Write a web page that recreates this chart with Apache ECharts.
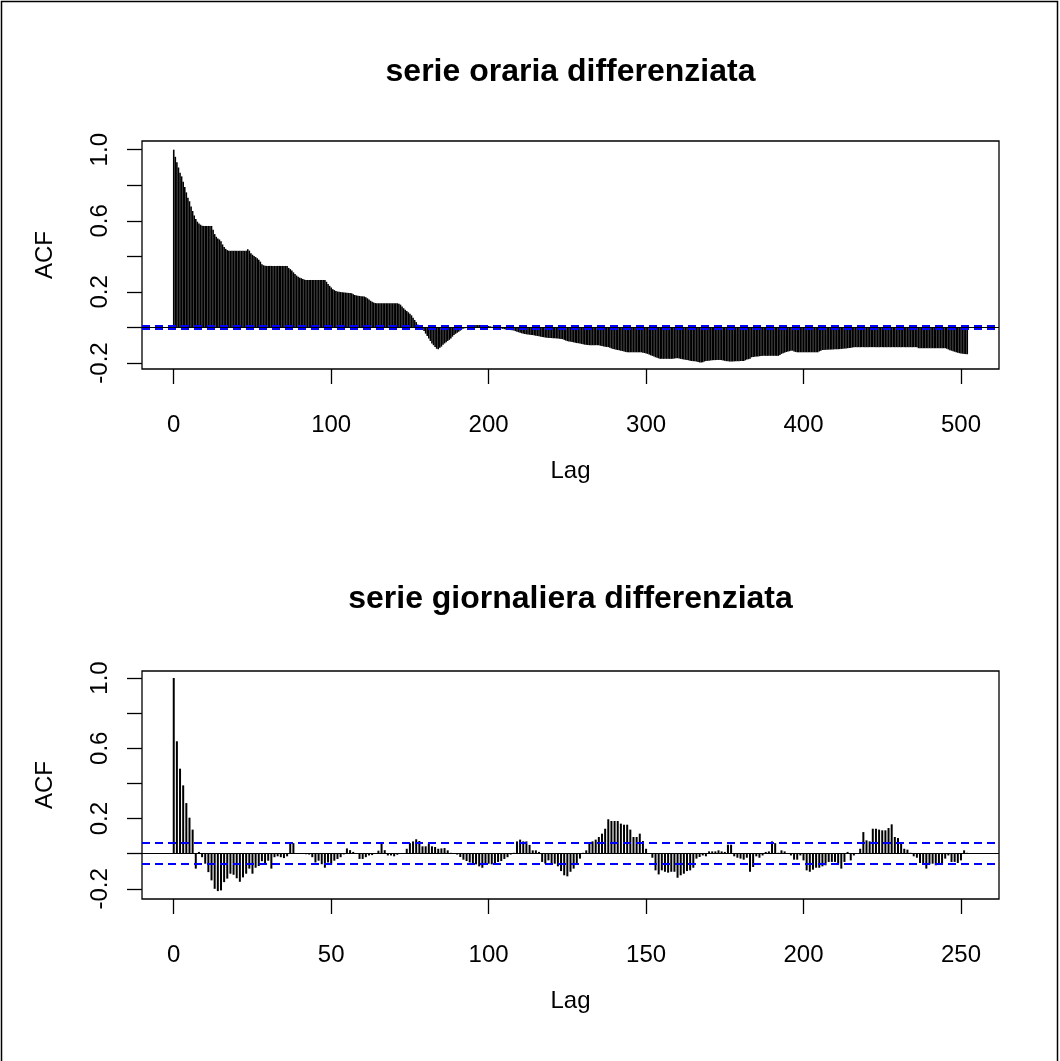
<!DOCTYPE html>
<html>
<head>
<meta charset="utf-8">
<script src="https://cdn.jsdelivr.net/npm/echarts@6/dist/echarts.min.js"></script>
<style>
html,body{margin:0;padding:0;background:#fff;}
#c{width:1060px;height:1061px;}
</style>
</head>
<body>
<div id="c"></div>
<script>
// ---- DATA ----
const titleTop = "serie oraria differenziata";
const titleBottom = "serie giornaliera differenziata";
const xTicksTop = [0, 100, 200, 300, 400, 500];
const xTicksBottom = [0, 50, 100, 150, 200, 250];
const yTicks = [-0.2, 0, 0.2, 0.4, 0.6, 0.8, 1.0];
const yTickLabels = [-0.2, 0.2, 0.6, 1.0];
const ciTop = 0.015;
const ciBottom = 0.061;

// ACF of hourly differenced series, lags 0..504
const acfTop = [
 1, .96, .93, .90, .87, .85, .82, .79, .76, .73,
 .71, .68, .655, .63, .61, .595, .585, .578, .572, .571,
 .571, .571, .571, .571, .571, .55, .525, .51, .50, .495,
 .485, .467, .452, .442, .435, .431, .431, .431, .431, .431,
 .431, .431, .431, .431, .431, .431, .431, .44, .432, .418,
 .409, .402, .396, .389, .381, .37, .356, .35, .347, .346,
 .346, .346, .346, .346, .346, .346, .346, .346, .346, .346,
 .346, .346, .346, .335, .328, .32, .31, .30, .292, .285,
 .28, .277, .272, .269, .267, .267, .267, .267, .267, .267,
 .267, .267, .267, .267, .267, .267, .267, .257, .245, .234,
 .225, .215, .21, .205, .202, .2, .199, .198, .197, .196,
 .195, .194, .193, .192, .187, .183, .18, .178, .177, .176,
 .175, .174, .17, .164, .157, .15, .145, .14, .137, .136,
 .136, .136, .136, .136, .136, .136, .136, .136, .136, .136,
 .136, .136, .136, .133, .128, .118, .108, .1, .092, .085,
 .077, .068, .055, .042, .03, .016, .008, .002, -.01, -.02,
 -.035, -.048, -.062, -.076, -.09, -.1, -.11, -.12, -.123, -.115,
 -.108, -.098, -.09, -.083, -.076, -.07, -.062, -.052, -.043, -.036,
 -.03, -.024, -.018, -.011, -.007, -.004, -.002, 0, .005, .01,
 .013, .013, .013, .013, .013, .013, .013, .013, .013, .013,
 .008, .006, .004, .003, .002, 0, -.002, -.004, -.006, -.008,
 -.01, -.012, -.013, -.014, -.015, -.016, -.018, -.021, -.024, -.027,
 -.03, -.033, -.035, -.037, -.039, -.04, -.041, -.042, -.043, -.045,
 -.047, -.048, -.05, -.052, -.054, -.055, -.057, -.058, -.059, -.06,
 -.06, -.061, -.061, -.062, -.063, -.064, -.065, -.066, -.07, -.074,
 -.077, -.079, -.08, -.082, -.084, -.086, -.088, -.089, -.091, -.093,
 -.095, -.097, -.098, -.099, -.1, -.1, -.1, -.1, -.1, -.1,
 -.1, -.103, -.105, -.107, -.109, -.11, -.111, -.115, -.118, -.121,
 -.123, -.125, -.127, -.129, -.131, -.133, -.136, -.138, -.14, -.14,
 -.14, -.14, -.14, -.14, -.14, -.14, -.14, -.14, -.142, -.144,
 -.147, -.149, -.153, -.157, -.16, -.164, -.168, -.171, -.174, -.177,
 -.177, -.177, -.177, -.177, -.177, -.177, -.177, -.176, -.175, -.174,
 -.173, -.175, -.177, -.179, -.181, -.182, -.183, -.185, -.187, -.189,
 -.19, -.191, -.192, -.195, -.197, -.198, -.196, -.192, -.189, -.188,
 -.187, -.186, -.185, -.184, -.184, -.183, -.183, -.183, -.184, -.186,
 -.188, -.19, -.191, -.192, -.192, -.192, -.191, -.19, -.19, -.19,
 -.189, -.189, -.189, -.185, -.181, -.179, -.176, -.168, -.166, -.165,
 -.164, -.163, -.162, -.161, -.16, -.16, -.16, -.16, -.16, -.16,
 -.16, -.16, -.16, -.16, -.16, -.155, -.149, -.145, -.142, -.139,
 -.136, -.134, -.131, -.131, -.135, -.138, -.14, -.14, -.14, -.14,
 -.14, -.14, -.14, -.14, -.14, -.14, -.14, -.14, -.14, -.14,
 -.135, -.131, -.127, -.127, -.126, -.126, -.125, -.125, -.124, -.124,
 -.123, -.123, -.123, -.122, -.121, -.12, -.119, -.118, -.117, -.116,
 -.115, -.113, -.112, -.111, -.111, -.111, -.111, -.111, -.111, -.111,
 -.111, -.111, -.111, -.111, -.111, -.111, -.111, -.111, -.111, -.111,
 -.111, -.111, -.111, -.111, -.111, -.111, -.111, -.111, -.111, -.111,
 -.111, -.111, -.111, -.111, -.111, -.111, -.111, -.111, -.111, -.111,
 -.111, -.111, -.111, -.117, -.117, -.117, -.117, -.117, -.117, -.117,
 -.117, -.117, -.117, -.117, -.117, -.117, -.117, -.117, -.117, -.117,
 -.117, -.12, -.124, -.128, -.131, -.134, -.137, -.14, -.142, -.145,
 -.147, -.148, -.149, -.15, -.151
];

// ACF of daily differenced series, lags 0..252
const acfBottom = [
 1, .64, .484, .389, .288, .205, .137, -.085, .01, -.02,
 -.057, -.105, -.152, -.2, -.213, -.209, -.162, -.142, -.114, -.12,
 -.14, -.16, -.135, -.114, -.085, -.114, -.08, -.07, -.043, -.06,
 -.04, -.085, -.02, -.015, -.02, -.025, -.015, .066, .06, .002,
 .001, 0, -.003, -.005, -.02, -.05, -.04, -.06, -.08, -.05,
 -.063, -.04, -.03, -.02, -.004, .03, .02, .01, 0, -.03,
 -.03, -.02, -.01, -.008, .003, .017, .06, .02, -.01, -.01,
 -.015, -.006, 0, .003, .028, .06, .07, .082, .072, .042,
 .042, .057, .042, .038, .028, .03, .032, .019, .005, 0,
 -.005, -.019, -.034, -.042, -.05, -.057, -.061, -.072, -.08, -.061,
 -.057, -.061, -.057, -.047, -.042, -.03, -.02, -.005, .005, .07,
 .08, .07, .07, .05, .019, .019, .01, -.047, -.057, -.038,
 -.057, -.057, -.072, -.099, -.123, -.129, -.103, -.085, -.057, -.028,
 .005, .019, .06, .07, .08, .095, .114, .142, .196, .186,
 .186, .186, .171, .165, .165, .137, .095, .095, .114, .072,
 .028, 0, -.023, -.095, -.118, -.095, -.103, -.108, -.103, -.103,
 -.137, -.123, -.114, -.099, -.095, -.08, -.028, -.019, -.01, -.015,
 .013, .013, .013, .019, .013, .01, .051, .051, -.015, -.023,
 -.028, -.034, -.023, -.103, -.076, -.015, -.023, -.01, .01, .013,
 .07, .06, .005, .019, .013, 0, -.01, -.034, -.034, -.01,
 -.038, -.095, -.103, -.091, -.08, -.08, -.072, -.066, -.047, -.047,
 -.047, -.057, -.085, -.047, .01, -.038, -.01, .004, .028, .123,
 .076, .07, .142, .142, .137, .133, .133, .146, .167, .095,
 .089, .066, .028, .023, .005, -.015, -.023, -.053, -.061, -.085,
 -.061, -.057, -.066, -.057, -.053, -.028, -.01, -.047, -.047, -.053,
 -.038, .019, .005
];

// ---- CHART ----
const FONT = '"Liberation Sans", Arial, Helvetica, sans-serif';
const chart = echarts.init(document.getElementById('c'), null, {renderer: 'canvas'});

function lagBars(lw) {
  return function (params, api) {
    const x = api.value(0), y = api.value(1);
    const p0 = api.coord([x, 0]);
    const p1 = api.coord([x, y]);
    return {
      type: 'line',
      shape: {x1: p0[0], y1: p0[1], x2: p1[0], y2: p1[1]},
      style: {stroke: '#000', lineWidth: lw}
    };
  };
}

function xAxisCfg(gridIndex, min, max, ticks) {
  return {
    type: 'value', gridIndex: gridIndex, min: min, max: max, position: 'bottom',
    name: 'Lag', nameLocation: 'middle', nameGap: 90,
    nameTextStyle: {fontFamily: FONT, fontSize: 24, color: '#000'},
    axisLine: {show: false, onZero: false},
    axisTick: {show: true, length: 15, inside: false, customValues: ticks, lineStyle: {color: '#000', width: 1.3}},
    axisLabel: {show: true, customValues: ticks, margin: 44, fontFamily: FONT, fontSize: 24, color: '#000'},
    splitLine: {show: false}
  };
}
function yAxisCfg(gridIndex, min, max) {
  return {
    type: 'value', gridIndex: gridIndex, min: min, max: max, position: 'left',
    name: 'ACF', nameLocation: 'middle', nameGap: 85, nameRotate: 90,
    nameTextStyle: {fontFamily: FONT, fontSize: 24, color: '#000'},
    axisLine: {show: false, onZero: false},
    axisTick: {show: true, length: 15, inside: false, customValues: yTicks, lineStyle: {color: '#000', width: 1.3}},
    axisLabel: {show: true, customValues: yTickLabels, rotate: 90, margin: 30,
      fontFamily: FONT, fontSize: 24, color: '#000',
      formatter: function (v) { return v.toFixed(1); }},
    splitLine: {show: false}
  };
}
function refLines(ci) {
  return {
    silent: true, symbol: 'none', animation: false,
    label: {show: false},
    data: [
      {yAxis: 0, lineStyle: {color: '#000', type: 'solid', width: 1.2}},
      {yAxis: ci, lineStyle: {color: '#0000ff', type: [8, 5], width: 2}},
      {yAxis: -ci, lineStyle: {color: '#0000ff', type: [8, 5], width: 2}}
    ]
  };
}

const option = {
  animation: false,
  backgroundColor: '#fff',
  grid: [
    {left: 142, top: 141, width: 857, height: 228, show: true, borderColor: '#000', borderWidth: 1.3, backgroundColor: 'transparent'},
    {left: 142, top: 671, width: 857, height: 228, show: true, borderColor: '#000', borderWidth: 1.3, backgroundColor: 'transparent'}
  ],
  xAxis: [
    xAxisCfg(0, -20.16, 524.16, xTicksTop),
    xAxisCfg(1, -10.08, 262.08, xTicksBottom)
  ],
  yAxis: [
    yAxisCfg(0, -0.234, 1.049),
    yAxisCfg(1, -0.258, 1.04)
  ],
  graphic: [
    {type: 'rect', silent: true, shape: {x: 1.5, y: 1.5, width: 1056, height: 1064},
      style: {fill: 'none', stroke: '#000', lineWidth: 1.5}},
    {type: 'text', x: 570.5, y: 72, silent: true,
      style: {text: titleTop, font: 'bold 32px ' + FONT, fill: '#000', textAlign: 'center', textVerticalAlign: 'middle'}},
    {type: 'text', x: 570.5, y: 599, silent: true,
      style: {text: titleBottom, font: 'bold 32px ' + FONT, fill: '#000', textAlign: 'center', textVerticalAlign: 'middle'}}
  ],
  series: [
    {type: 'custom', xAxisIndex: 0, yAxisIndex: 0, renderItem: lagBars(1.6),
      data: acfTop.map(function (v, i) { return [i, v]; }), markLine: refLines(ciTop), z: 2},
    {type: 'custom', xAxisIndex: 1, yAxisIndex: 1, renderItem: lagBars(2),
      data: acfBottom.map(function (v, i) { return [i, v]; }), markLine: refLines(ciBottom), z: 2}
  ]
};
chart.setOption(option);
</script>
</body>
</html>
